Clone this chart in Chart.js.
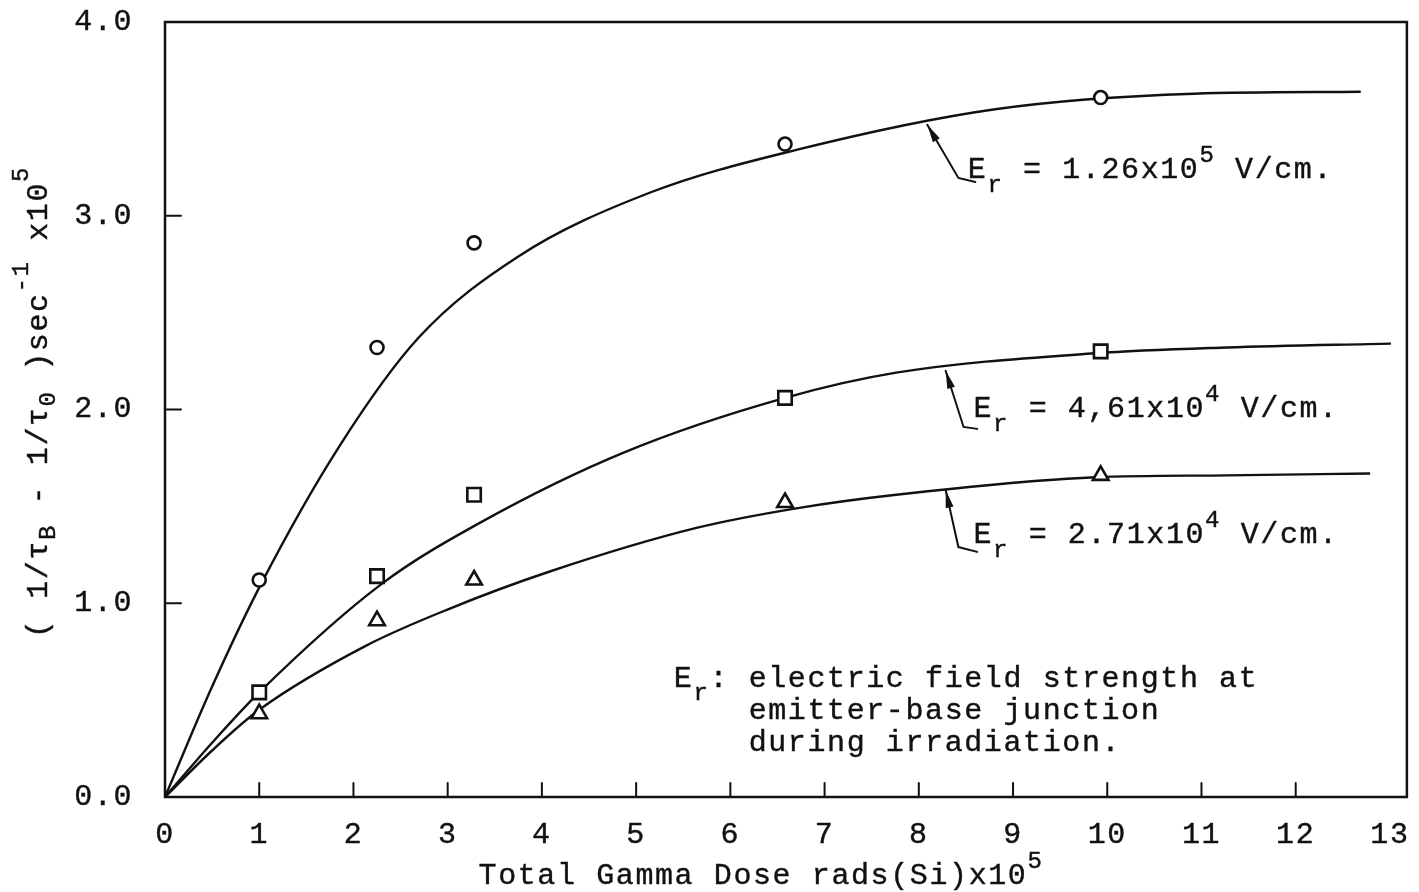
<!DOCTYPE html>
<html>
<head>
<meta charset="utf-8">
<script src="https://cdn.jsdelivr.net/npm/chart.js@4/dist/chart.umd.min.js"></script>
<style>
  html, body { margin: 0; padding: 0; background: #fff; }
</style>
</head>
<body>
<canvas id="doseChart" width="1419" height="892"></canvas>
<script>
// measured recovery rate vs dose (dose in 1e5 rads(Si))
const doses = [1.0, 2.25, 3.28, 6.58, 9.93];
const highField = [1.12, 2.32, 2.86, 3.37, 3.61];   // Er = 1.26x10^5 V/cm
const midField = [0.54, 1.14, 1.56, 2.06, 2.30];    // Er = 4.61x10^4 V/cm
const lowField = [0.43, 0.91, 1.12, 1.52, 1.66];    // Er = 2.71x10^4 V/cm

// hand-drawn fit curves, sampled along their length
const highFitX = [0, 0.5, 1.02, 1.85, 2.69, 3.75, 5.15, 6.7, 8.81, 10.92, 12.69];
const highFitY = [0, 0.57, 1.1, 1.81, 2.37, 2.79, 3.12, 3.34, 3.55, 3.63, 3.64];
const midFitX = [0, 0.5, 1.0, 2.3, 3.36, 4.88, 6.58, 7.76, 9.87, 11.27, 13.01];
const midFitY = [0, 0.28, 0.54, 1.1, 1.42, 1.78, 2.06, 2.19, 2.29, 2.32, 2.34];
const lowFitX = [0, 0.5, 1.0, 2.13, 3.01, 4.06, 5.65, 6.7, 7.76, 9.87, 11.27, 12.79];
const lowFitY = [0, 0.24, 0.45, 0.78, 0.97, 1.16, 1.39, 1.49, 1.56, 1.65, 1.66, 1.67];

const xTicks = [0, 1, 2, 3, 4, 5, 6, 7, 8, 9, 10, 11, 12, 13];
const yTicks = [0, 1, 2, 3, 4];

const fieldLabels = ['1.26x10', '4,61x10', '2.71x10'];
const fieldExps = ['5', '4', '4'];

const mono = "'Liberation Mono', 'DejaVu Sans Mono', monospace";
const ink = '#111';
const fontSize = 30;
const spacing = '1.6px';

// where each curve label sits (data units): arrow tip on the curve, shaft end, hook end, text start
const notes = [
  { tip: [8.09, 3.47], tail: [8.42, 3.195], hook: [8.6, 3.174], at: [8.52, 3.195] },
  { tip: [8.285, 2.2], tail: [8.475, 1.91], hook: [8.62, 1.9], at: [8.58, 1.961] },
  { tip: [8.285, 1.585], tail: [8.42, 1.29], hook: [8.62, 1.265], at: [8.58, 1.311] }
];

function pts(xs, ys) {
  return xs.map((x, i) => ({ x, y: ys[i] }));
}

function curve(xs, ys) {
  return {
    data: pts(xs, ys),
    showLine: true,
    borderColor: ink,
    borderWidth: 2.4,
    pointRadius: 0,
    cubicInterpolationMode: 'monotone'
  };
}

function marks(ys, style, r) {
  return {
    data: pts(doses, ys),
    pointStyle: style,
    pointRadius: r,
    pointHoverRadius: r,
    borderColor: ink,
    backgroundColor: '#fff',
    borderWidth: 2.6,
    showLine: false
  };
}

function setFont(ctx, kind) {
  ctx.font = `${kind === 0 ? fontSize : Math.round(fontSize * 0.8)}px ${mono}`;
}

// text made of normal / subscript (1) / superscript (-1) pieces
function drawRuns(ctx, x, y, parts, subDy, supDy) {
  let cx = x;
  parts.forEach(([t, kind]) => {
    setFont(ctx, kind);
    const dy = kind === 1 ? subDy : kind === -1 ? supDy : 0;
    ctx.strokeText(t, cx, y + dy);
    ctx.fillText(t, cx, y + dy);
    cx += ctx.measureText(t).width;
  });
  return cx;
}

function runsWidth(ctx, parts) {
  let w = 0;
  parts.forEach(([t, kind]) => {
    setFont(ctx, kind);
    w += ctx.measureText(t).width;
  });
  return w;
}

function arrow(ctx, tip, tail, hook) {
  ctx.beginPath();
  ctx.moveTo(hook[0], hook[1]);
  ctx.lineTo(tail[0], tail[1]);
  ctx.lineTo(tip[0], tip[1]);
  ctx.stroke();
  const ang = Math.atan2(tail[1] - tip[1], tail[0] - tip[0]);
  const len = 18, half = 4;
  ctx.beginPath();
  ctx.moveTo(tip[0], tip[1]);
  ctx.lineTo(tip[0] + Math.cos(ang) * len - Math.sin(ang) * half, tip[1] + Math.sin(ang) * len + Math.cos(ang) * half);
  ctx.lineTo(tip[0] + Math.cos(ang) * len + Math.sin(ang) * half, tip[1] + Math.sin(ang) * len - Math.cos(ang) * half);
  ctx.closePath();
  ctx.fill();
}

const typewriter = {
  id: 'typewriter',
  beforeDraw(chart) {
    chart.ctx.letterSpacing = spacing;
  },
  afterDraw(chart) {
    const { ctx, chartArea: a } = chart;
    const xs = chart.scales.x, ys = chart.scales.y;
    const px = p => [xs.getPixelForValue(p[0]), ys.getPixelForValue(p[1])];

    ctx.save();
    ctx.strokeStyle = ink;
    ctx.fillStyle = ink;
    ctx.lineWidth = 2.5;
    ctx.lineCap = 'round';

    // frame
    ctx.strokeRect(a.left, a.top, a.right - a.left, a.bottom - a.top);

    // inward tick marks
    ctx.lineWidth = 2;
    xTicks.slice(1, -1).forEach(v => {
      const x = xs.getPixelForValue(v);
      ctx.beginPath();
      ctx.moveTo(x, a.bottom);
      ctx.lineTo(x, a.bottom - 14);
      ctx.stroke();
    });
    yTicks.slice(1, -1).forEach(v => {
      const y = ys.getPixelForValue(v);
      ctx.beginPath();
      ctx.moveTo(a.left, y);
      ctx.lineTo(a.left + 16, y);
      ctx.stroke();
    });

    // curve labels with arrows
    notes.forEach(n => {
      ctx.lineWidth = 2;
      arrow(ctx, px(n.tip), px(n.tail), px(n.hook));
    });

    ctx.letterSpacing = spacing;
    ctx.textBaseline = 'alphabetic';
    ctx.textAlign = 'left';
    ctx.lineWidth = 0.4;
    ctx.lineCap = 'butt';

    notes.forEach((n, i) => {
      const [tx, ty] = px(n.at);
      drawRuns(ctx, tx, ty, [['E', 0], ['r', 1], [' = ' + fieldLabels[i], 0], [fieldExps[i], -1], [' V/cm.', 0]], 14, -16);
    });

    // definition note
    const [nx, ny] = px([5.4, 0.568]);
    const indent = drawRuns(ctx, nx, ny, [['E', 0], ['r', 1], [': ', 0]], 13, -16);
    [['electric field strength at', 0], ['emitter-base junction', 32], ['during irradiation.', 64]].forEach(([t, dy]) => {
      drawRuns(ctx, indent, ny + dy, [[t, 0]], 0, 0);
    });

    // x axis title
    const xParts = [['Total Gamma Dose rads(Si)x10', 0], ['5', -1]];
    const xw = runsWidth(ctx, xParts);
    drawRuns(ctx, a.left + 596 - xw / 2, 884, xParts, 12, -16);

    // y axis title, reading upwards
    const yParts = [['( 1/τ', 0], ['B', 1], [' - 1/τ', 0], ['0', 1], [' )sec', 0], ['-1', -1], [' x10', 0], ['5', -1]];
    ctx.translate(47, 402);
    ctx.rotate(-Math.PI / 2);
    const yw = runsWidth(ctx, yParts);
    drawRuns(ctx, -yw / 2, 0, yParts, 8, -19);
    ctx.restore();
  }
};

// keep the plot box where the padding puts it, whatever the edge labels need
function noOverflow(s) {
  s.paddingTop = 0;
  s.paddingBottom = 0;
  s.paddingLeft = 0;
  s.paddingRight = 0;
}

const tickFont = { family: mono, size: fontSize };

new Chart(document.getElementById('doseChart'), {
  type: 'scatter',
  data: {
    datasets: [
      marks(highField, 'circle', 6.5),
      marks(midField, 'rect', 9.5),
      marks(lowField, 'triangle', 9),
      curve(highFitX, highFitY),
      curve(midFitX, midFitY),
      curve(lowFitX, lowFitY)
    ]
  },
  options: {
    responsive: false,
    devicePixelRatio: 1,
    animation: false,
    events: [],
    layout: { padding: { top: 22, right: 5, left: 0, bottom: 0 } },
    plugins: { legend: { display: false }, tooltip: { enabled: false } },
    scales: {
      x: {
        type: 'linear',
        min: 0,
        max: 13.18,
        afterBuildTicks: s => { s.ticks = xTicks.map(v => ({ value: v })); },
        afterFit: s => { s.height = 95; noOverflow(s); },
        grid: { display: false },
        border: { display: false },
        ticks: {
          autoSkip: false,
          maxRotation: 0,
          padding: 12,
          color: ink,
          textStrokeColor: ink,
          textStrokeWidth: 0.4,
          font: tickFont,
          callback: v => String(v)
        }
      },
      y: {
        min: 0,
        max: 4,
        afterBuildTicks: s => { s.ticks = yTicks.map(v => ({ value: v })); },
        afterFit: s => { s.width = 165; noOverflow(s); },
        grid: { display: false },
        border: { display: false },
        ticks: {
          padding: 24,
          color: ink,
          textStrokeColor: ink,
          textStrokeWidth: 0.4,
          font: tickFont,
          callback: v => v.toFixed(1)
        }
      }
    }
  },
  plugins: [typewriter]
});
</script>
</body>
</html>
